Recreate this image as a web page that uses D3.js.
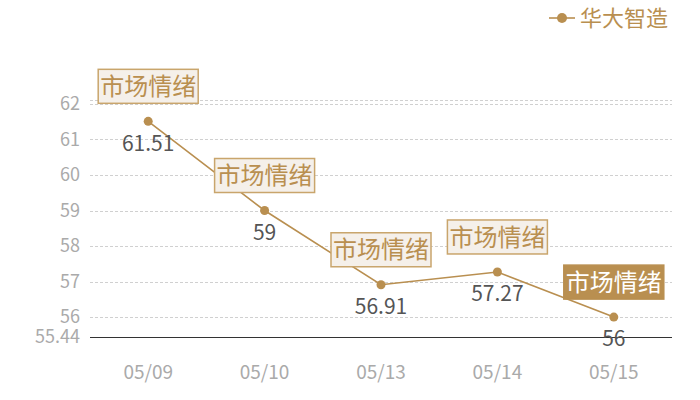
<!DOCTYPE html>
<html lang="zh">
<head>
<meta charset="utf-8">
<title>华大智造</title>
<script src="https://cdn.jsdelivr.net/npm/d3@7"></script>
<style>
  body { margin: 0; background: #fff; }
  text { font-family: "Noto Sans CJK SC", "Noto Sans", sans-serif; }
</style>
</head>
<body>
<script>
// data
var dates = ["05/09", "05/10", "05/13", "05/14", "05/15"];
var values = [61.51, 59, 56.91, 57.27, 56];
var tagText = ["市场情绪", "市场情绪", "市场情绪", "市场情绪", "市场情绪"];
var yTicks = [56, 57, 58, 59, 60, 61, 62];
var seriesName = "华大智造";

var w = 700, h = 400;
var gold = "#b98f50";
var yMin = 55.44, yMax = 62.11;

var svg = d3.select("body").append("svg")
  .attr("width", w).attr("height", h);

var x = d3.scaleBand().domain(dates).range([90, 672]);
var y = d3.scaleLinear().domain([yMin, yMax]).range([337, 100]);
var cx = function(d) { return x(d) + x.bandwidth() / 2; };

// grid lines
svg.selectAll("line.grid")
  .data(yTicks.concat([yMax]))
  .enter().append("line")
  .attr("x1", 90).attr("x2", 672)
  .attr("y1", function(d) { return Math.round(y(d)) + 0.5; })
  .attr("y2", function(d) { return Math.round(y(d)) + 0.5; })
  .attr("stroke", "#d0d0d0")
  .attr("stroke-dasharray", "3,2");

// y tick labels
svg.selectAll("text.ytick")
  .data(yTicks.concat([yMin]))
  .enter().append("text")
  .attr("x", 80)
  .attr("y", function(d) { return y(d); })
  .attr("dy", "0.35em")
  .attr("text-anchor", "end")
  .attr("font-size", 18)
  .attr("fill", "#aaa")
  .text(function(d) { return d; });

// x axis line
svg.append("line")
  .attr("x1", 90).attr("x2", 672)
  .attr("y1", Math.round(y(yMin)) + 0.5).attr("y2", Math.round(y(yMin)) + 0.5)
  .attr("stroke", "#333").attr("stroke-width", 1);

// x labels
svg.selectAll("text.xtick")
  .data(dates)
  .enter().append("text")
  .attr("x", cx)
  .attr("y", 372)
  .attr("dy", "0.35em")
  .attr("text-anchor", "middle")
  .attr("font-size", 19)
  .attr("fill", "#aaa")
  .text(function(d) { return d; });

// line
var line = d3.line()
  .x(function(d, i) { return cx(dates[i]); })
  .y(function(d) { return y(d); });

svg.append("path")
  .datum(values)
  .attr("d", line)
  .attr("fill", "none")
  .attr("stroke", gold)
  .attr("stroke-width", 1.6);

svg.selectAll("circle.pt")
  .data(values)
  .enter().append("circle")
  .attr("cx", function(d, i) { return cx(dates[i]); })
  .attr("cy", function(d) { return y(d); })
  .attr("r", 4.5)
  .attr("fill", gold);

// value labels
svg.selectAll("text.val")
  .data(values)
  .enter().append("text")
  .attr("x", function(d, i) { return cx(dates[i]); })
  .attr("y", function(d) { return y(d) + 22; })
  .attr("dy", "0.35em")
  .attr("text-anchor", "middle")
  .attr("font-size", 21)
  .attr("fill", "#555")
  .text(function(d) { return d; });

// tag boxes
var tags = svg.selectAll("g.tag")
  .data(values)
  .enter().append("g")
  .attr("transform", function(d, i) {
    return "translate(" + cx(dates[i]) + "," + (y(d) - 35) + ")";
  });

tags.append("rect")
  .attr("x", -50).attr("y", -17)
  .attr("width", 100).attr("height", 34)
  .attr("fill", function(d, i) { return i === values.length - 1 ? gold : "#f5f0ea"; })
  .attr("stroke", function(d, i) { return i === values.length - 1 ? gold : "#c9a56c"; })
  .attr("stroke-width", 1.5);

tags.append("text")
  .attr("text-anchor", "middle")
  .attr("dy", "0.36em")
  .attr("font-size", 24)
  .attr("fill", function(d, i) { return i === values.length - 1 ? "#fff" : gold; })
  .text(function(d, i) { return tagText[i]; });

// legend
var lg = svg.append("g").attr("transform", "translate(562,18)");
lg.append("line").attr("x1", -13).attr("x2", 13).attr("stroke", gold).attr("stroke-width", 1.6);
lg.append("circle").attr("r", 5).attr("fill", gold);
lg.append("text")
  .attr("x", 18).attr("dy", "0.35em")
  .attr("font-size", 22)
  .attr("fill", gold)
  .text(seriesName);
</script>
</body>
</html>
